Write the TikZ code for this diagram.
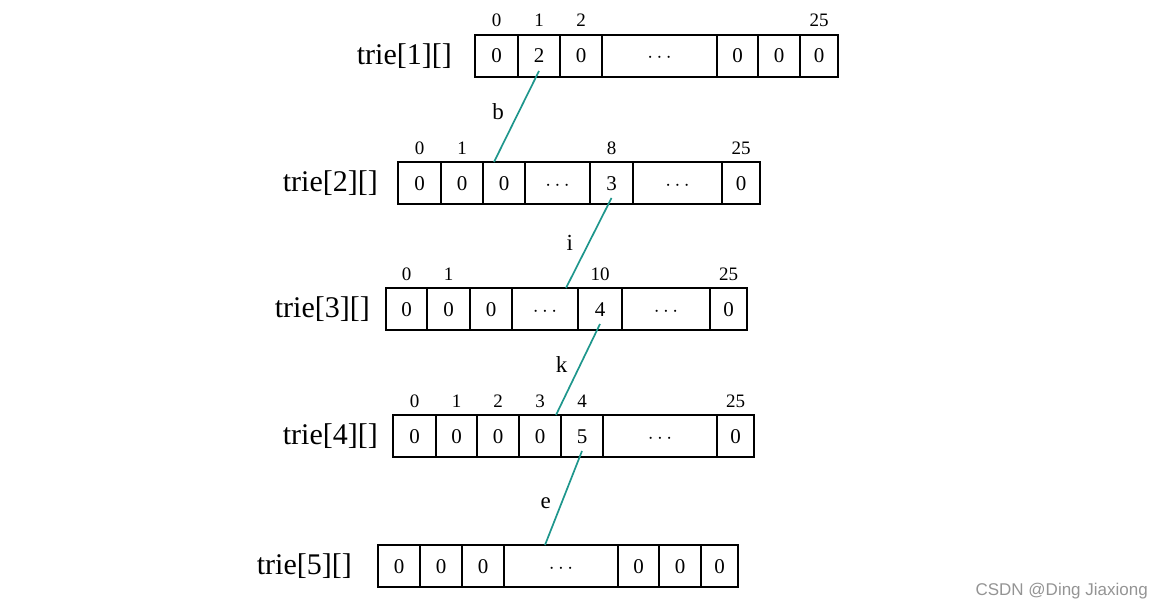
\documentclass[tikz,border=0pt]{standalone}
\usepackage{fontspec}
\setmainfont{Liberation Serif}
\newfontfamily\marksans{Liberation Sans}
\usetikzlibrary{calc}
\usetikzlibrary{positioning}
\definecolor{linkteal}{RGB}{30,150,140}

\begin{document}
\begin{tikzpicture}[
  x=1pt, y=-1pt,
  cell/.style={draw, line width=1.3pt, rectangle, inner sep=0pt, outer sep=0pt, minimum height=42pt, text height=14pt, text depth=0pt, font=\fontsize{21}{25}\selectfont},
  idx/.style={inner sep=0pt, font=\fontsize{19}{23}\selectfont},
  rowname/.style={inner sep=0pt, font=\fontsize{30}{34}\selectfont},
  link/.style={draw=linkteal, line width=1.7pt},
  edgelbl/.style={inner sep=0pt, font=\fontsize{23}{27}\selectfont}
]
\useasboundingbox (0,0) rectangle (1164,610);

% trie[1]
\node[cell, minimum width=43pt, anchor=north west] (a0) at (475,35) {0};
\node[cell, minimum width=42pt, right=0pt of a0] (a1) {2};
\node[cell, minimum width=42pt, right=0pt of a1] (a2) {0};
\node[cell, minimum width=115pt, right=0pt of a2] (a3) {$\cdots$};
\node[cell, minimum width=41pt, right=0pt of a3] (a4) {0};
\node[cell, minimum width=42pt, right=0pt of a4] (a5) {0};
\node[cell, minimum width=38pt, right=0pt of a5] (a6) {0};
\node[rowname, left=23pt of a0] (t1) {trie[1][]};
\node[idx, above=8pt of a0] (ia0) {0};
\node[idx, above=8pt of a1] (ia1) {1};
\node[idx, above=8pt of a2] (ia2) {2};
\node[idx, above=8pt of a6] (ia6) {25};

% trie[2]
\node[cell, minimum width=43pt, anchor=north west] (b0) at (398,162) {0};
\node[cell, minimum width=42pt, right=0pt of b0] (b1) {0};
\node[cell, minimum width=42pt, right=0pt of b1] (b2) {0};
\node[cell, minimum width=65pt, right=0pt of b2] (b3) {$\cdots$};
\node[cell, minimum width=43pt, right=0pt of b3] (b4) {3};
\node[cell, minimum width=89pt, right=0pt of b4] (b5) {$\cdots$};
\node[cell, minimum width=38pt, right=0pt of b5] (b6) {0};
\node[rowname, left=20pt of b0] (t2) {trie[2][]};
\node[idx, above=7pt of b0] (ib0) {0};
\node[idx, above=7pt of b1] (ib1) {1};
\node[idx, above=7pt of b4] (ib4) {8};
\node[idx, above=7pt of b6] (ib6) {25};

% trie[3]
\node[cell, minimum width=41pt, anchor=north west] (c0) at (386,288) {0};
\node[cell, minimum width=43pt, right=0pt of c0] (c1) {0};
\node[cell, minimum width=42pt, right=0pt of c1] (c2) {0};
\node[cell, minimum width=66pt, right=0pt of c2] (c3) {$\cdots$};
\node[cell, minimum width=44pt, right=0pt of c3] (c4) {4};
\node[cell, minimum width=88pt, right=0pt of c4] (c5) {$\cdots$};
\node[cell, minimum width=37pt, right=0pt of c5] (c6) {0};
\node[rowname, left=16pt of c0] (t3) {trie[3][]};
\node[idx, above=7pt of c0] (ic0) {0};
\node[idx, above=7pt of c1] (ic1) {1};
\node[idx, above=7pt of c4] (ic4) {10};
\node[idx, above=7pt of c6] (ic6) {25};

% trie[4]
\node[cell, minimum width=43pt, anchor=north west] (d0) at (393,415) {0};
\node[cell, minimum width=41pt, right=0pt of d0] (d1) {0};
\node[cell, minimum width=42pt, right=0pt of d1] (d2) {0};
\node[cell, minimum width=42pt, right=0pt of d2] (d3) {0};
\node[cell, minimum width=42pt, right=0pt of d3] (d4) {5};
\node[cell, minimum width=114pt, right=0pt of d4] (d5) {$\cdots$};
\node[cell, minimum width=37pt, right=0pt of d5] (d6) {0};
\node[rowname, left=15pt of d0] (t4) {trie[4][]};
\node[idx, above=7pt of d0] (id0) {0};
\node[idx, above=7pt of d1] (id1) {1};
\node[idx, above=7pt of d2] (id2) {2};
\node[idx, above=7pt of d3] (id3) {3};
\node[idx, above=7pt of d4] (id4) {4};
\node[idx, above=7pt of d6] (id6) {25};

% trie[5]
\node[cell, minimum width=42pt, anchor=north west] (e0) at (378,545) {0};
\node[cell, minimum width=42pt, right=0pt of e0] (e1) {0};
\node[cell, minimum width=42pt, right=0pt of e1] (e2) {0};
\node[cell, minimum width=114pt, right=0pt of e2] (e3) {$\cdots$};
\node[cell, minimum width=41pt, right=0pt of e3] (e4) {0};
\node[cell, minimum width=42pt, right=0pt of e4] (e5) {0};
\node[cell, minimum width=37pt, right=0pt of e5] (e6) {0};
\node[rowname, left=26pt of e0] (t5) {trie[5][]};

% links
\draw[link] ($(a1.south)+(0,-6)$) -- node[edgelbl, pos=0.45, left=14pt] (lb) {b} ($(b2.north)+(-10,0)$);
\draw[link] ($(b4.south)+(0,-6)$) -- node[edgelbl, pos=0.5, left=15pt] (li) {i} ($(c3.north)+(21,0)$);
\draw[link] ($(c4.south)+(0,-6)$) -- node[edgelbl, pos=0.45, left=12pt] (lk) {k} ($(d3.north)+(16,0)$);
\draw[link] ($(d4.south)+(0,-6)$) -- node[edgelbl, pos=0.55, left=10pt] (le) {e} ($(e3.north)+(-16,0)$);

\node[anchor=east, inner sep=0pt, text=black!42, font=\marksans\fontsize{17}{20}\selectfont] (mark) at (1148,591) {CSDN @Ding Jiaxiong};
\end{tikzpicture}
\end{document}
